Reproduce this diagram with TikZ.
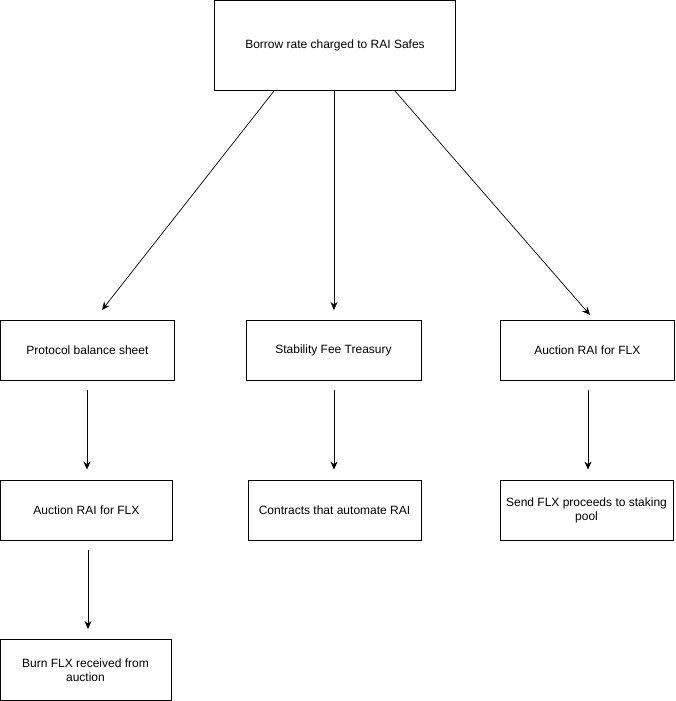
\documentclass[tikz,border=0pt]{standalone}
\usepackage{fontspec}
\setmainfont{Liberation Sans}
\usetikzlibrary{arrows.meta}
\newcommand\boxfont{\fontsize{12}{14}\selectfont\hyphenpenalty=10000\relax\exhyphenpenalty=10000\relax}
\begin{document}
\begin{tikzpicture}[x=1pt,y=-1pt,
  box/.style={draw=black,line width=0.8pt,rectangle,inner sep=0pt,align=flush center,
    font=\boxfont},
  arr/.style={draw=black,line width=0.7pt,-{Stealth[length=8pt,width=7pt,inset=2.5pt]}}]
\useasboundingbox (0,0) rectangle (675,701);
\node[box,minimum width=241pt,minimum height=90pt,text width=230pt] (top) at (335,45) {Borrow rate charged to RAI Safes};
\node[box,minimum width=174pt,minimum height=60pt,text width=164pt] (pbs) at (87.4,350) {Protocol balance sheet};
\node[box,minimum width=175pt,minimum height=60pt,text width=165pt] (sft) at (333.5,350) {Stability Fee Treasury};
\node[box,minimum width=174pt,minimum height=60pt,text width=164pt] (arf) at (587.3,350) {Auction RAI for FLX};
\node[box,minimum width=172pt,minimum height=60pt,text width=162pt] (arf2) at (86.4,510) {Auction RAI for FLX};
\node[box,minimum width=173pt,minimum height=60pt,text width=163pt] (car) at (334.5,510) {Contracts that automate RAI};
\node[box,minimum width=173pt,minimum height=60pt,text width=165pt] (send) at (586.5,510) {Send FLX proceeds to staking pool};
\node[box,minimum width=171pt,minimum height=61pt,text width=161pt] (burn) at (85.5,670) {Burn FLX received from auction};
% diagonal / top connectors
\coordinate (s1) at (274,91);
\coordinate (s2) at (334,91);
\coordinate (s3) at (395,91);
\coordinate (e1) at (102,310);
\coordinate (e2) at (334,310);
\coordinate (e3) at (590,315);
\draw[arr] (s1) -- (e1);
\draw[arr] (s2) -- (e2);
\draw[arr] (s3) -- (e3);
% vertical connectors
\draw[arr] ([yshift=-10pt]pbs.south -| 87,0) -- ([yshift=10pt]arf2.north -| 87,0);
\draw[arr] ([yshift=-10pt]sft.south -| 334,0) -- ([yshift=10pt]car.north -| 334,0);
\draw[arr] ([yshift=-10pt]arf.south -| 588,0) -- ([yshift=10pt]send.north -| 588,0);
\draw[arr] ([yshift=-10pt]arf2.south -| 88,0) -- ([yshift=10pt]burn.north -| 88,0);
\end{tikzpicture}
\end{document}
